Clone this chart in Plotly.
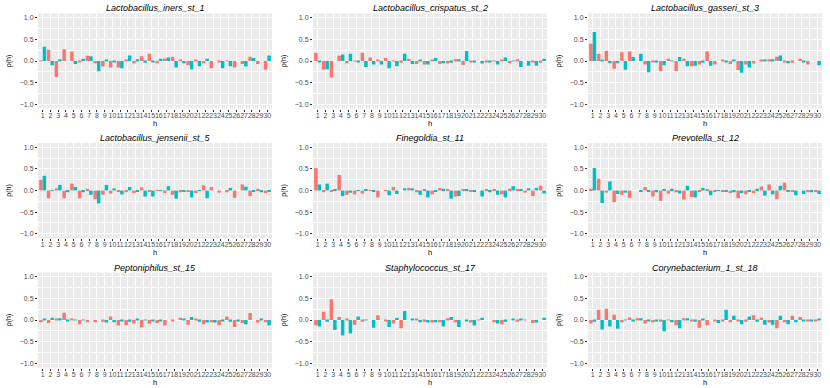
import plotly.graph_objects as go
from plotly.subplots import make_subplots

W, H = 830, 388
RED = "#F8766D"
TEAL = "#00BFC4"
_FONT = "Liberation Sans, Arial, sans-serif"

lags = list(range(1, 31))

panel_titles = [
    "Lactobacillus_iners_st_1", "Lactobacillus_crispatus_st_2", "Lactobacillus_gasseri_st_3",
    "Lactobacillus_jensenii_st_5", "Finegoldia_st_11", "Prevotella_st_12",
    "Peptoniphilus_st_15", "Staphylococcus_st_17", "Corynebacterium_1_st_18",
]

# red series (left bar of each lag)
iners_red = [0.01, 0.26, -0.37, 0.27, 0.22, -0.03, 0.12, -0.05, -0.13, -0.15,
             -0.15, 0.03, -0.05, 0.11, 0.17, -0.05, 0.06, 0.10, 0.03, -0.10,
             0.03, -0.05, -0.17, -0.03, 0.01, -0.15, -0.07, 0.10, -0.07, -0.20]
iners_teal = [0.33, -0.10, 0.04, 0.00, -0.07, 0.05, 0.11, -0.24, 0.03, -0.02,
              -0.17, 0.13, 0.04, -0.04, -0.02, 0.05, 0.08, -0.15, -0.05, -0.19,
              -0.12, 0.05, 0.00, -0.17, -0.12, 0.00, -0.13, 0.07, 0.00, 0.13]

crispatus_red = [0.19, -0.20, -0.38, 0.12, -0.05, 0.01, 0.19, 0.08, 0.02, 0.07,
                 -0.01, -0.04, 0.05, -0.07, -0.08, 0.02, -0.07, -0.06, 0.04, -0.09,
                 -0.03, 0.00, -0.03, 0.01, 0.02, -0.05, 0.04, 0.00, -0.03, -0.04]
crispatus_teal = [-0.03, -0.19, 0.00, 0.15, 0.17, -0.02, -0.14, -0.08, -0.08, -0.17,
                  -0.12, 0.17, -0.07, 0.03, -0.08, 0.07, -0.05, -0.04, 0.04, 0.23,
                  -0.03, -0.06, -0.03, -0.08, 0.08, 0.01, -0.14, -0.11, -0.11, 0.05]

gasseri_red = [0.40, 0.17, 0.24, -0.18, 0.20, 0.22, 0.00, -0.08, -0.02, -0.24,
               0.05, -0.23, 0.05, -0.12, -0.08, 0.22, -0.08, 0.03, -0.07, -0.21,
               -0.08, -0.06, 0.02, 0.04, 0.10, -0.03, -0.04, 0.05, -0.08, 0.00]
gasseri_teal = [0.67, 0.02, -0.05, -0.05, -0.20, 0.09, 0.17, -0.26, -0.02, -0.10,
                0.01, 0.09, -0.12, -0.11, -0.04, -0.11, 0.00, -0.03, 0.03, -0.27,
                -0.15, 0.00, 0.02, 0.04, 0.13, -0.05, 0.00, -0.03, 0.00, -0.10]

jensenii_red = [0.25, -0.18, 0.05, -0.18, 0.16, -0.18, 0.04, -0.20, -0.10, -0.07,
                -0.02, -0.04, -0.06, 0.07, -0.02, 0.01, -0.06, -0.10, -0.04, -0.03,
                -0.06, 0.12, 0.08, -0.05, -0.04, -0.17, 0.14, -0.13, 0.04, -0.06]
jensenii_teal = [0.34, 0.01, 0.13, -0.04, 0.08, -0.04, -0.10, -0.30, 0.13, 0.05,
                 -0.09, 0.08, -0.02, -0.14, -0.14, 0.01, 0.10, -0.19, -0.03, -0.16,
                 -0.01, -0.18, 0.00, 0.00, 0.06, 0.00, 0.09, -0.03, -0.04, -0.03]

finegoldia_red = [0.52, -0.04, -0.02, 0.36, -0.10, -0.09, -0.07, 0.01, -0.16, -0.01,
                  0.08, 0.00, 0.06, -0.04, 0.03, -0.09, 0.06, 0.02, -0.14, 0.02,
                  -0.02, 0.00, 0.02, 0.03, -0.09, 0.04, 0.03, -0.05, -0.13, 0.11]
finegoldia_teal = [0.14, 0.16, 0.03, -0.13, -0.05, 0.01, 0.02, -0.02, 0.00, -0.11,
                   -0.08, 0.05, 0.05, -0.10, -0.16, -0.02, 0.04, -0.19, -0.13, 0.03,
                   -0.02, -0.14, -0.04, -0.10, -0.16, 0.10, 0.02, 0.05, 0.06, -0.07]

prevotella_red = [0.04, 0.27, -0.05, -0.27, -0.10, -0.17, 0.00, 0.08, -0.14, -0.24,
                  -0.07, -0.04, -0.21, -0.15, -0.03, 0.02, -0.02, -0.03, -0.06, -0.18,
                  -0.09, -0.06, 0.09, 0.14, -0.20, 0.18, -0.02, 0.00, -0.04, -0.03]
prevotella_teal = [0.52, -0.29, 0.21, -0.08, -0.05, 0.00, -0.03, -0.02, -0.04, 0.03,
                   0.04, -0.07, 0.11, -0.16, 0.06, -0.11, 0.01, -0.03, -0.04, -0.06,
                   -0.03, 0.04, -0.12, -0.09, 0.11, -0.03, -0.11, -0.08, -0.04, -0.08]

peptoniphilus_red = [-0.05, -0.07, 0.02, 0.17, 0.03, -0.10, -0.05, -0.05, -0.04, 0.08,
                     -0.13, -0.12, -0.08, -0.17, -0.08, -0.07, -0.13, -0.03, 0.05, -0.11,
                     0.03, -0.10, -0.05, -0.12, 0.08, -0.16, -0.07, 0.16, -0.06, -0.05]
peptoniphilus_teal = [0.02, 0.05, 0.04, -0.03, -0.01, -0.01, 0.00, 0.00, -0.06, -0.05,
                      -0.03, -0.04, 0.03, -0.01, -0.02, -0.02, 0.00, 0.00, 0.03, 0.07,
                      -0.04, -0.06, -0.06, -0.02, -0.04, -0.02, -0.10, 0.00, 0.02, -0.13]

staph_red = [-0.12, 0.19, 0.48, 0.07, 0.03, -0.11, -0.04, 0.00, 0.11, -0.03,
             -0.08, -0.19, 0.00, 0.03, -0.04, -0.06, -0.05, 0.04, -0.05, 0.00,
             -0.06, 0.01, 0.00, -0.05, -0.10, 0.00, -0.04, -0.01, -0.07, 0.00]
staph_teal = [-0.15, -0.04, -0.23, -0.36, -0.31, 0.08, 0.01, -0.18, 0.00, -0.16,
              0.05, 0.21, 0.03, -0.05, -0.06, -0.05, -0.15, 0.07, -0.16, -0.02,
              -0.13, 0.05, 0.00, -0.08, -0.04, 0.02, 0.03, 0.00, -0.06, 0.05]

coryne_red = [-0.08, 0.24, 0.26, 0.12, -0.05, 0.06, 0.04, -0.08, -0.05, -0.04,
              -0.01, -0.12, 0.04, -0.03, -0.18, -0.12, -0.03, -0.02, -0.05, -0.03,
              -0.04, 0.11, 0.05, -0.06, -0.19, -0.05, 0.10, 0.07, -0.03, -0.02]
coryne_teal = [-0.04, -0.22, -0.15, -0.20, -0.01, -0.03, 0.04, -0.02, -0.03, -0.26,
               -0.05, -0.19, 0.04, -0.04, 0.03, 0.00, -0.07, 0.24, 0.10, -0.10,
               0.08, -0.04, -0.11, -0.11, 0.10, -0.10, -0.05, -0.03, -0.02, 0.03]

red_series = [iners_red, crispatus_red, gasseri_red, jensenii_red, finegoldia_red,
              prevotella_red, peptoniphilus_red, staph_red, coryne_red]
teal_series = [iners_teal, crispatus_teal, gasseri_teal, jensenii_teal, finegoldia_teal,
               prevotella_teal, peptoniphilus_teal, staph_teal, coryne_teal]

y_ticks = [-1.0, -0.5, 0.0, 0.5, 1.0]
y_ticktext = ["\u22121.0", "\u22120.5", "0.0", "0.5", "1.0"]

# panel boxes in pixels (left, right) and (top, bottom)
col_px = [(38, 272), (313, 547), (588, 822)]
row_px = [(13.5, 108.5), (143, 238), (272.5, 367.5)]

fig = make_subplots(rows=3, cols=3)

for i in range(9):
    r, c = i // 3 + 1, i % 3 + 1
    fig.add_trace(go.Bar(x=lags, y=red_series[i], marker=dict(color=RED, line_width=0),
                         name="red", showlegend=False), row=r, col=c)
    fig.add_trace(go.Bar(x=lags, y=teal_series[i], marker=dict(color=TEAL, line_width=0),
                         name="teal", showlegend=False), row=r, col=c)

annotations = []
for i in range(9):
    r, c = i // 3, i % 3
    x0, x1 = col_px[c]
    y0, y1 = row_px[r]
    n = "" if i == 0 else str(i + 1)
    fig.layout["xaxis" + n].update(
        domain=[x0 / W, x1 / W], range=[0.4, 30.6],
        tickmode="array", tickvals=lags, ticktext=[str(v) for v in lags],
        tickangle=0, ticks="outside", ticklen=2, tickwidth=0.8, tickcolor="#333333",
        tickfont=dict(size=7, color="#4D4D4D", family=_FONT),
        ticklabelstandoff=-2,
        showgrid=True, gridcolor="white", gridwidth=1,
        zeroline=False, showline=False,
        title=dict(text="h", font=dict(size=7.5, color="black", family=_FONT), standoff=0),
    )
    fig.layout["yaxis" + n].update(
        domain=[1 - y1 / H, 1 - y0 / H], range=[-1.1, 1.1],
        tickmode="array", tickvals=y_ticks, ticktext=y_ticktext,
        ticks="outside", ticklen=2, tickwidth=0.8, tickcolor="#333333",
        tickfont=dict(size=7, color="#4D4D4D", family=_FONT),
        showgrid=True, gridcolor="white", gridwidth=1,
        minor=dict(tickvals=[-0.75, -0.25, 0.25, 0.75], showgrid=True,
                   gridcolor="white", gridwidth=0.5, ticks=""),
        zeroline=False, showline=False,
        title=dict(text="\u03c1(h)", font=dict(size=7, color="black", family=_FONT), standoff=7),
    )
    annotations.append(dict(
        text=f"<i>{panel_titles[i]}</i>",
        xref="paper", yref="paper",
        x=(x0 + x1) / 2 / W, y=1 - y0 / H,
        xanchor="center", yanchor="bottom", yshift=-2,
        showarrow=False,
        font=dict(size=9, color="black", family=_FONT),
    ))

fig.update_layout(
    width=W, height=H,
    margin=dict(l=0, r=0, t=0, b=0),
    paper_bgcolor="white",
    plot_bgcolor="#EBEBEB",
    barmode="group", bargap=0.1, bargroupgap=0,
    showlegend=False,
    annotations=annotations,
    font=dict(family=_FONT),
)

# page body has a default 8px margin; drop it so the figure sits at the window corner
fig.write_html(
    "out.html",
    config={"displayModeBar": False},
    post_script="document.body.style.margin='0';",
)
